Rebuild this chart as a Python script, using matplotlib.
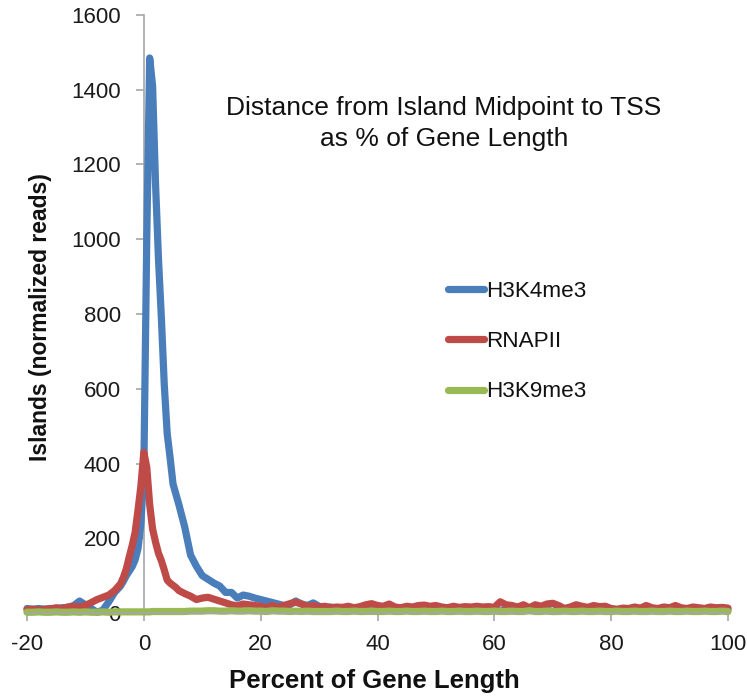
import matplotlib
matplotlib.use("Agg")
import matplotlib.pyplot as plt

plt.rcParams['font.family'] = ['Liberation Sans', 'DejaVu Sans']
plt.rcParams['axes.unicode_minus'] = False

# Percent of gene length (x positions of samples)
pct = [-20, -19, -18, -17, -16, -15, -14, -13, -12, -11, -10, -9, -8, -7, -6, -5, -4,
       -3.5, -3, -2.5, -2, -1.5, -1, -0.5, 0, 0.5, 1, 1.5, 2, 2.5, 3, 3.5, 4, 4.5, 5, 5.5, 6,
       7, 8, 9, 10, 11, 12, 13, 14, 15, 16, 17, 18, 19, 20, 21, 22, 23, 24, 25, 26, 27, 28, 29, 30,
       31, 32, 33, 34, 35, 36, 37, 38, 39, 40, 41, 42, 43, 44, 45, 46, 47, 48, 49, 50,
       51, 52, 53, 54, 55, 56, 57, 58, 59, 60, 61, 62, 63, 64, 65, 66, 67, 68, 69, 70,
       71, 72, 73, 74, 75, 76, 77, 78, 79, 80, 81, 82, 83, 84, 85, 86, 87, 88, 89, 90,
       91, 92, 93, 94, 95, 96, 97, 98, 99, 100]

h3k4me3 = [12, 10, 12, 10, 12, 11, 14, 15, 20, 32, 22, 12, 2, 8, 30, 55, 72,
           85, 100, 112, 124, 142, 172, 240, 380, 1000, 1485, 1410, 1150, 950, 790, 610, 480, 415, 345, 318, 290,
           230, 155, 125, 100, 90, 80, 72, 55, 55, 40, 48, 45, 40, 36, 32, 28, 24, 20, 22, 32, 24, 20, 27, 18,
           15, 16, 12, 14, 12, 10, 12, 8, 5, 10, 9, 11, 10, 12, 9, 10, 11, 8, 10, 12,
           9, 10, 11, 9, 10, 8, 10, 11, 9, 8, 5, 10, 11, 9, 10, 12, 9, 10, 8, 4,
           10, 9, 11, 10, 9, 8, 10, 11, 9, 10, 8, 9, 10, 9, 11, 10, 8, 9, 10, 9,
           10, 8, 9, 10, 9, 8, 10, 9, 10, 9]

rnapii = [9, 10, 8, 10, 11, 14, 12, 16, 18, 16, 20, 28, 36, 42, 48, 60, 78,
          95, 118, 150, 180, 215, 275, 340, 430, 390, 290, 225, 190, 160, 140, 115, 88, 80, 74, 68, 60,
          52, 45, 36, 40, 42, 37, 32, 27, 22, 19, 24, 22, 20, 18, 14, 20, 15, 20, 25, 29, 24, 18, 20, 16,
          18, 14, 16, 15, 18, 14, 17, 22, 25, 20, 18, 24, 16, 14, 18, 16, 20, 21, 18, 20,
          16, 14, 18, 15, 17, 16, 18, 16, 17, 15, 30, 22, 20, 16, 22, 14, 22, 18, 24, 26,
          20, 12, 16, 22, 18, 15, 20, 17, 18, 12, 10, 13, 12, 16, 13, 20, 14, 12, 16, 14,
          20, 14, 12, 16, 14, 12, 16, 14, 15, 13]

h3k9me3 = [2, 2, 3, 2, 2, 3, 2, 2, 3, 2, 3, 2, 2, 3, 2, 3, 3,
           3, 3, 3, 3, 3, 3, 3, 3, 3, 3, 4, 4, 4, 4, 4, 4, 4, 4, 4, 4,
           4, 5, 5, 5, 6, 6, 5, 5, 6, 5, 5, 6, 5, 5, 4, 6, 5, 5, 4, 5, 4, 5, 4, 4,
           4, 4, 5, 4, 4, 5, 4, 4, 5, 4, 4, 5, 4, 4, 5, 4, 4, 5, 4, 4,
           5, 4, 4, 5, 4, 4, 5, 4, 4, 5, 4, 4, 5, 4, 4, 6, 4, 4, 5, 4,
           4, 5, 4, 4, 5, 4, 4, 5, 4, 4, 5, 4, 4, 5, 4, 4, 5, 4, 4, 5,
           4, 4, 5, 4, 4, 5, 4, 4, 5, 4]

series_names = ['H3K4me3', 'RNAPII', 'H3K9me3']
series_colors = ['#4a7ebb', '#be4b48', '#98b954']

x_ticks = [-20, 0, 20, 40, 60, 80, 100]
y_ticks = [0, 200, 400, 600, 800, 1000, 1200, 1400, 1600]

fig = plt.figure(figsize=(7.47, 6.96), dpi=100)
ax = fig.add_axes([27 / 747, 1 - 613 / 696, 701 / 747, 598 / 696])

for vals, name, col in zip([h3k4me3, rnapii, h3k9me3], series_names, series_colors):
    ax.plot(pct, vals, color=col, lw=5.2, label=name, clip_on=False,
            solid_joinstyle='round', solid_capstyle='round')

ax.set_xlim(-20, 100)
ax.set_ylim(0, 1600)
ax.set_xticks(x_ticks)
ax.set_yticks(y_ticks)

axis_col = '#a6a6a6'
for s in ['top', 'right']:
    ax.spines[s].set_visible(False)
ax.spines['left'].set_position(('data', 0))
ax.spines['left'].set_color(axis_col)
ax.spines['bottom'].set_color(axis_col)
ax.spines['left'].set_linewidth(1.2)
ax.spines['bottom'].set_linewidth(1.2)
ax.spines['left'].set_zorder(0.5)
ax.tick_params(axis='both', direction='out', length=6, width=1.2, color=axis_col,
               labelsize=16, labelcolor='#1a1a1a')
ax.tick_params(axis='x', pad=9)
ax.tick_params(axis='y', pad=10.5)

ax.set_xlabel('Percent of Gene Length', fontsize=18.5, fontweight='bold', color='#111111')
ax.xaxis.label.set_va('baseline')
ax.xaxis.set_label_coords((374 - 27) / 701, (613 - 688) / 598)
ax.set_ylabel('Islands (normalized reads)', fontsize=16.5, fontweight='bold', color='#111111')
ax.yaxis.label.set_va('baseline')
ax.yaxis.set_label_coords((47 - 27) / 701, (613 - 317) / 598)

title_x = (444 - 27) / 701
ax.text(title_x, (613 - 115) / 598, 'Distance from Island Midpoint to TSS',
        transform=ax.transAxes, ha='center', va='baseline', fontsize=19, color='#111111')
ax.text(title_x, (613 - 146) / 598, 'as % of Gene Length',
        transform=ax.transAxes, ha='center', va='baseline', fontsize=19, color='#111111')

leg = ax.legend(loc='upper left', bbox_to_anchor=(0.600, 0.556), frameon=False,
                fontsize=16.2, handlelength=1.6, handletextpad=0.1, labelspacing=1.31,
                borderpad=0, borderaxespad=0)
for t in leg.get_texts():
    t.set_color('#111111')

fig.savefig('out.png', dpi=100, facecolor='white')
